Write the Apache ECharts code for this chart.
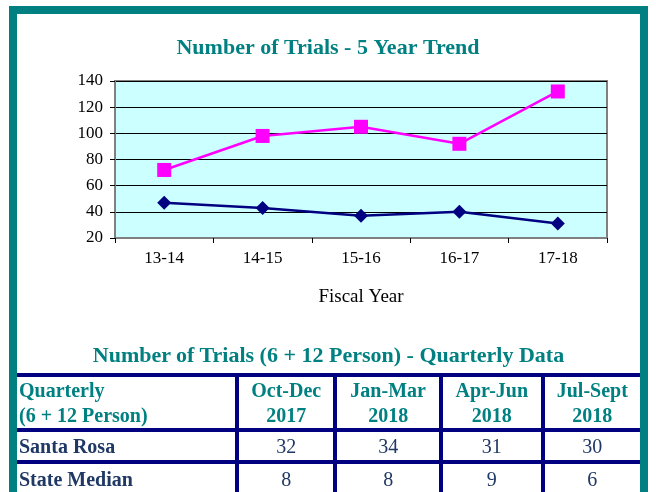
<!DOCTYPE html>
<html>
<head>
<meta charset="utf-8">
<script src="https://cdn.jsdelivr.net/npm/echarts@6/dist/echarts.min.js"></script>
<style>
  body { margin: 0; background: #fff; }
  #wrap { position: relative; width: 656px; height: 492px; overflow: hidden; }
  #frame { position: absolute; left: 9px; top: 6px; width: 623px; height: 500px;
           border: 8px solid #008080; border-bottom: none; }
  #chart { position: absolute; left: 0; top: 0; width: 656px; height: 330px; }
  #ttl { position: absolute; left: 17px; width: 623px; top: 342px; text-align: center;
         font: bold 22px "Liberation Serif", serif; color: #008080; }
  table { position: absolute; left: 17px; top: 373px; width: 623px; border-collapse: collapse;
          font-family: "Liberation Serif", serif; font-size: 20px; }
  td { border: 4px solid #000080; padding: 0 2px; line-height: 25px; }
  tr td:first-child { border-left: none; }
  tr td:last-child { border-right: none; }
  tr:last-child td { border-bottom: none; }
  .hd { color: #008080; font-weight: bold; text-align: center; }
  .lab { color: #1F3864; font-weight: bold; text-align: left; }
  .v { color: #1F3864; text-align: center; }
</style>
</head>
<body>
<div id="wrap">
  <div id="chart"></div>
  <div id="frame"></div>
  <div id="ttl">Number of Trials (6 + 12 Person) - Quarterly Data</div>
  <table id="tbl"></table>
</div>
<script>
  // 5 year trend
  var years = ['13-14', '14-15', '15-16', '16-17', '17-18'];
  var santaRosa = [72, 98, 105, 92, 132];
  var stateMedian = [47, 43, 37, 40, 31];

  // quarterly table
  var quarters = [['Oct-Dec', '2017'], ['Jan-Mar', '2018'], ['Apr-Jun', '2018'], ['Jul-Sept', '2018']];
  var qSantaRosa = [32, 34, 31, 30];
  var qStateMedian = [8, 8, 9, 6];

  var chart = echarts.init(document.getElementById('chart'));
  chart.setOption({
    animation: false,
    title: {
      text: 'Number of Trials - 5 Year Trend',
      left: 'center',
      top: 32,
      textStyle: { fontFamily: 'Liberation Serif', fontSize: 22, fontWeight: 'bold', color: '#008080' }
    },
    grid: {
      left: 115, right: 49, top: 81, height: 157,
      show: true, backgroundColor: '#CCFFFF', borderColor: '#808080', borderWidth: 2
    },
    xAxis: {
      type: 'category',
      data: years,
      boundaryGap: true,
      name: 'Fiscal Year',
      nameLocation: 'middle',
      nameGap: 50,
      nameTextStyle: { fontFamily: 'Liberation Serif', fontSize: 19, color: '#000' },
      axisLine: { lineStyle: { color: '#808080', width: 2 } },
      axisTick: { show: true, length: 5, lineStyle: { color: '#000' } },
      axisLabel: { fontFamily: 'Liberation Serif', fontSize: 17, color: '#000', margin: 12 }
    },
    yAxis: {
      type: 'value',
      min: 20, max: 140, interval: 20,
      axisLine: { show: true, lineStyle: { color: '#808080', width: 2 } },
      axisTick: { show: true, length: 5, lineStyle: { color: '#000' } },
      axisLabel: { fontFamily: 'Liberation Serif', fontSize: 17, color: '#000', margin: 12 },
      splitLine: { lineStyle: { color: '#000', width: 1 } }
    },
    series: [
      {
        name: 'Santa Rosa', type: 'line', data: santaRosa,
        symbol: 'rect', symbolSize: 14,
        lineStyle: { color: '#FF00FF', width: 2.5 },
        itemStyle: { color: '#FF00FF' }
      },
      {
        name: 'State Median', type: 'line', data: stateMedian,
        symbol: 'diamond', symbolSize: 14,
        lineStyle: { color: '#000080', width: 2.5 },
        itemStyle: { color: '#000080' }
      }
    ]
  });

  // build table
  var html = '<tr style="height:55px"><td class="hd" style="text-align:left;width:214px">Quarterly<br>(6 + 12 Person)</td>';
  quarters.forEach(function (q) { html += '<td class="hd">' + q[0] + '<br>' + q[1] + '</td>'; });
  html += '</tr><tr style="height:32px"><td class="lab">Santa Rosa</td>';
  qSantaRosa.forEach(function (v) { html += '<td class="v">' + v + '</td>'; });
  html += '</tr><tr style="height:32px"><td class="lab">State Median</td>';
  qStateMedian.forEach(function (v) { html += '<td class="v">' + v + '</td>'; });
  html += '</tr>';
  document.getElementById('tbl').innerHTML = html;
</script>
</body>
</html>
